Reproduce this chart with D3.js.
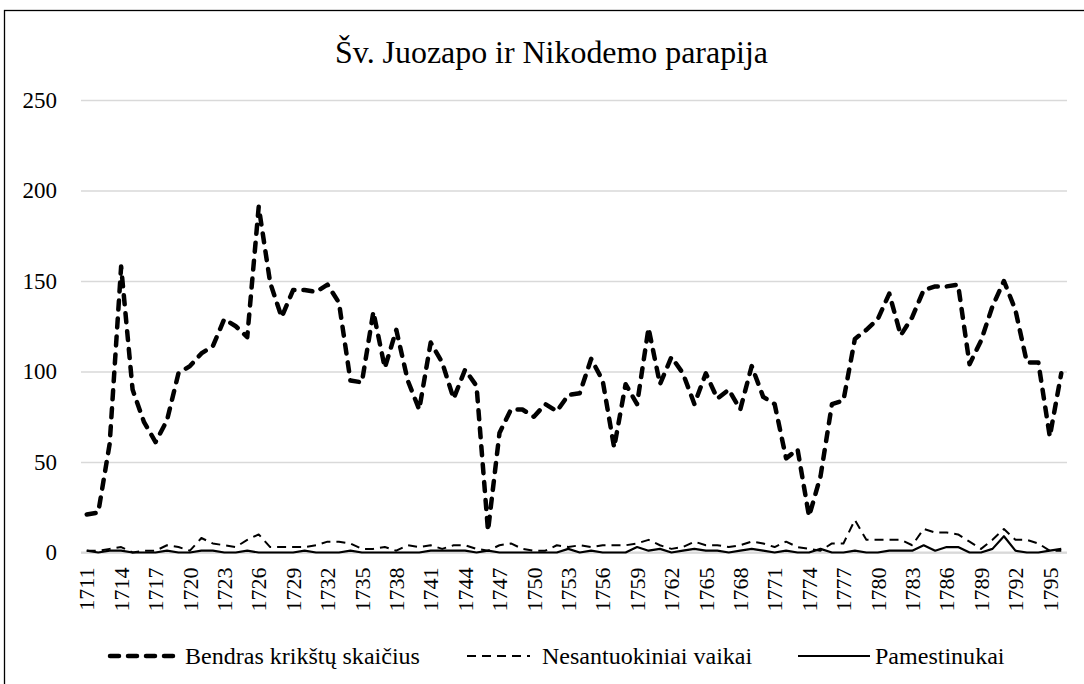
<!DOCTYPE html>
<html>
<head>
<meta charset="utf-8">
<script src="https://cdn.jsdelivr.net/npm/d3@7"></script>
<style>
  html, body { margin: 0; padding: 0; background: #fff; }
  svg { display: block; }
</style>
</head>
<body>
<svg id="chart" width="1084" height="684"></svg>
<script>
const years = d3.range(1711, 1797);
const xTickLabels = d3.range(1711, 1797, 3);
const yTicks = [0, 50, 100, 150, 200, 250];

const bendras = [
  21, 22, 60, 158, 90, 72, 61, 73, 99, 103,
  110, 114, 129, 125, 119, 191, 149, 130, 145, 145,
  144, 148, 138, 95, 94, 133, 102, 123, 95, 79,
  116, 105, 85, 101, 92, 12, 66, 79, 79, 75,
  82, 78, 87, 88, 107, 95, 58, 93, 82, 124,
  93, 108, 99, 82, 99, 85, 90, 79, 103, 86,
  82, 52, 57, 20, 42, 82, 84, 118, 123, 129,
  143, 120, 130, 145, 147, 147, 148, 104, 117, 136,
  150, 134, 105, 105, 64, 99
];

const nesantuokiniai = [
  1, 1, 2, 3, 0, 1, 1, 4, 3, 1,
  8, 5, 4, 3, 7, 10, 3, 3, 3, 3,
  4, 6, 6, 5, 2, 2, 3, 1, 4, 3,
  4, 2, 4, 4, 2, 1, 4, 5, 2, 1,
  1, 4, 3, 4, 3, 4, 4, 4, 5, 7,
  4, 2, 3, 6, 4, 4, 3, 4, 6, 5,
  3, 6, 3, 2, 1, 5, 5, 18, 7, 7,
  7, 7, 4, 13, 11, 11, 10, 6, 2, 7,
  13, 7, 7, 5, 1, 1
];

const pamestinukai = [
  1, 0, 1, 1, 0, 0, 0, 1, 0, 0,
  1, 1, 0, 0, 1, 0, 0, 0, 0, 1,
  0, 0, 0, 1, 0, 0, 0, 0, 0, 0,
  1, 1, 1, 1, 0, 1, 0, 0, 0, 0,
  0, 0, 2, 0, 1, 0, 0, 0, 3, 1,
  2, 0, 1, 2, 1, 1, 0, 1, 2, 1,
  0, 1, 0, 0, 2, 0, 0, 1, 0, 0,
  1, 1, 1, 4, 1, 3, 3, 0, 0, 2,
  9, 1, 0, 0, 1, 2
];

const seriesNames = ["Bendras krikštų skaičius", "Nesantuokiniai vaikai", "Pamestinukai"];

// pick an installed serif font if there is one
function hasFont(name) {
  const c = document.createElement("canvas").getContext("2d");
  const s = "abcdefghijklmnopqrstuvwxyz0123456789WMli";
  return ["monospace", "sans-serif"].some(base => {
    c.font = "40px " + base;
    const w0 = c.measureText(s).width;
    c.font = "40px '" + name + "', " + base;
    return c.measureText(s).width !== w0;
  });
}
const candidates = ["Liberation Serif", "Times New Roman", "Tinos", "DejaVu Serif", "Noto Serif", "FreeSerif", "Times"];
const found = candidates.find(hasFont);
const FONT = found ? "'" + found + "', serif" : "'Liberation Sans', Arimo, sans-serif";

const svg = d3.select("#chart");

// fit text to a target width
function fit(sel, target, base) {
  sel.style("font-size", base + "px");
  const w = sel.node().getComputedTextLength();
  if (w > 0) sel.style("font-size", (base * target / w).toFixed(2) + "px");
}

// outer border
svg.append("rect")
  .attr("x", 4.5).attr("y", 10.5)
  .attr("width", 1200).attr("height", 800)
  .attr("fill", "none").attr("stroke", "#000").attr("stroke-width", 1.3);

// title
const title = svg.append("text")
  .attr("x", 551.5).attr("y", 63)
  .attr("text-anchor", "middle")
  .attr("fill", "#000")
  .style("font-family", FONT)
  .text("Šv. Juozapo ir Nikodemo parapija");
fit(title, 433, 31);

const x = d3.scalePoint().domain(years).range([81, 1067]).padding(0.5);
const y = d3.scaleLinear().domain([0, 250]).range([552.5, 100]);

// gridlines
svg.append("g")
  .attr("transform", "translate(81,0)")
  .call(d3.axisLeft(y).tickValues(yTicks).tickSize(-986).tickFormat(""))
  .call(g => g.select(".domain").remove())
  .call(g => g.selectAll("line").attr("stroke", "#d9d9d9").attr("stroke-width", 1.5));

// y labels
svg.append("g")
  .attr("transform", "translate(81,0)")
  .call(d3.axisLeft(y).tickValues(yTicks).tickSize(0).tickPadding(24))
  .call(g => g.select(".domain").remove())
  .call(g => g.selectAll("text")
    .style("font-family", FONT)
    .style("font-size", found ? "23px" : "21px")
    .attr("fill", "#000"));

// x axis labels
svg.append("g")
  .attr("transform", "translate(0,552.5)")
  .call(d3.axisBottom(x).tickValues(xTickLabels).tickSize(0).tickFormat(d3.format("d")))
  .call(g => g.select(".domain").remove())
  .call(g => g.selectAll("text")
    .style("font-family", FONT)
    .style("font-size", found ? "22px" : "20px")
    .attr("fill", "#000")
    .attr("transform", "rotate(-90)")
    .attr("text-anchor", "end")
    .attr("dy", "0.33em")
    .attr("x", -15)
    .attr("y", 0));

// baseline
svg.append("line")
  .attr("x1", 81).attr("x2", 1067)
  .attr("y1", y(0)).attr("y2", y(0))
  .attr("stroke", "#d9d9d9").attr("stroke-width", 2);

const line = d3.line().x((d, i) => x(years[i])).y(d => y(d));

const styles = [
  { data: bendras, width: 4.5, dash: "9 9", cap: "round" },
  { data: nesantuokiniai, width: 2, dash: "9 6", cap: "butt" },
  { data: pamestinukai, width: 2.2, dash: null, cap: "butt" }
];

[2, 1, 0].forEach(k => {
  const s = styles[k];
  svg.append("path")
    .datum(s.data)
    .attr("d", line)
    .attr("fill", "none")
    .attr("stroke", "#000")
    .attr("stroke-width", s.width)
    .attr("stroke-linejoin", "round")
    .attr("stroke-linecap", s.cap)
    .attr("stroke-dasharray", s.dash);
});

// legend
const legendItems = [
  { name: seriesNames[0], x1: 110, x2: 181, tx: 185, w: 235, s: styles[0] },
  { name: seriesNames[1], x1: 467, x2: 530, tx: 542, w: 210, s: styles[1] },
  { name: seriesNames[2], x1: 798, x2: 870, tx: 875, w: 128, s: styles[2] }
];
const legendY = 656;
const legendTexts = legendItems.map(it => {
  svg.append("line")
    .attr("x1", it.x1).attr("x2", it.x2)
    .attr("y1", legendY).attr("y2", legendY)
    .attr("stroke", "#000")
    .attr("stroke-width", it.s.width)
    .attr("stroke-linecap", it.s.cap)
    .attr("stroke-dasharray", it.s.dash);
  return svg.append("text")
    .attr("x", it.tx).attr("y", legendY)
    .attr("dy", "0.35em")
    .attr("fill", "#000")
    .style("font-family", FONT)
    .style("font-size", "23px")
    .text(it.name);
});
// one common size, fitted to the first label
fit(legendTexts[0], legendItems[0].w, 23);
const fs = legendTexts[0].style("font-size");
legendTexts.forEach(t => t.style("font-size", fs));
</script>
</body>
</html>
